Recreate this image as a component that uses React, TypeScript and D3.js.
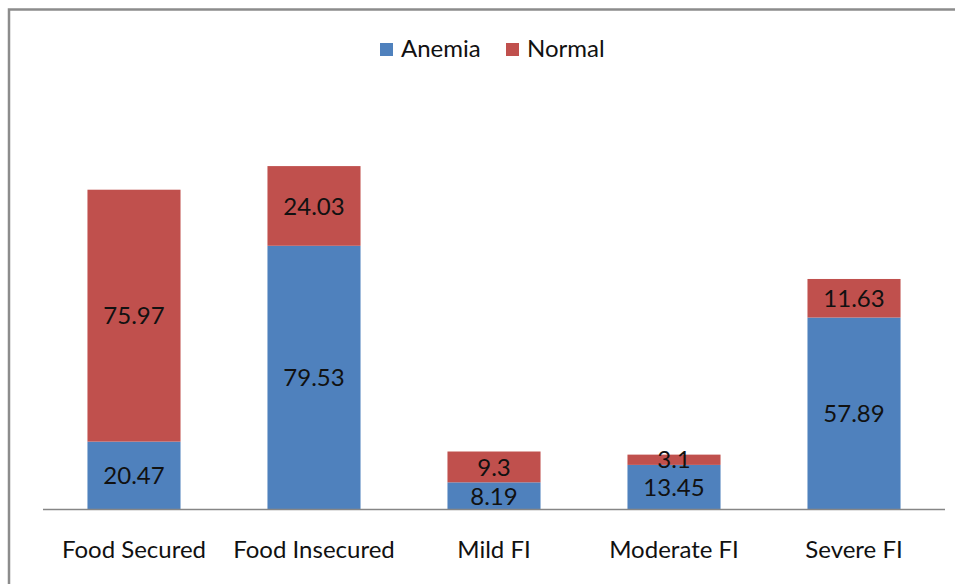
import React, { useRef, useEffect } from "react";
import * as d3 from "d3";

const categories = ["Food Secured", "Food Insecured", "Mild FI", "Moderate FI", "Severe FI"];
const anemia = [20.47, 79.53, 8.19, 13.45, 57.89];
const normal = [75.97, 24.03, 9.3, 3.1, 11.63];
const seriesNames = ["Anemia", "Normal"];
const seriesColors = ["#4F81BD", "#C0504D"];

const W = 955;
const H = 584;
const FONT = "Lato, 'Open Sans', sans-serif";

const App = () => {
  const ref = useRef<SVGSVGElement>(null);

  useEffect(() => {
    if (!ref.current) return;
    const svg = d3.select(ref.current);
    svg.selectAll("*").remove();

    // outer chart frame
    svg
      .append("rect")
      .attr("x", 9)
      .attr("y", 9.5)
      .attr("width", W + 20)
      .attr("height", H + 20)
      .attr("fill", "white")
      .attr("stroke", "#8c8c8c")
      .attr("stroke-width", 2.5);

    const baseline = 509.5;
    const x = d3
      .scaleBand()
      .domain(categories)
      .range([43, 945])
      .paddingInner(0.483)
      .paddingOuter(0.247);
    const y = d3.scaleLinear().domain([0, 120]).range([baseline, baseline - 120 * 3.316]);

    const rows = categories.map((c, i) => ({ cat: c, Anemia: anemia[i], Normal: normal[i] }));
    const stacked = d3.stack<any>().keys(seriesNames)(rows);

    const g = svg.append("g");
    stacked.forEach((layer, li) => {
      g.selectAll(".s" + li)
        .data(layer)
        .enter()
        .append("rect")
        .attr("x", (d: any) => x(d.data.cat)!)
        .attr("width", x.bandwidth())
        .attr("y", (d: any) => y(d[1]))
        .attr("height", (d: any) => y(d[0]) - y(d[1]))
        .attr("fill", seriesColors[li]);
    });

    // data labels
    stacked.forEach((layer) => {
      g.selectAll(null)
        .data(layer)
        .enter()
        .append("text")
        .attr("x", (d: any) => x(d.data.cat)! + x.bandwidth() / 2)
        .attr("y", (d: any) => (y(d[0]) + y(d[1])) / 2)
        .attr("dy", "0.36em")
        .attr("text-anchor", "middle")
        .attr("font-family", FONT)
        .attr("font-size", 24)
        .attr("fill", "#111")
        .text((d: any) => String(d.data[layer.key]));
    });

    // x axis
    const xAxis = svg.append("g").attr("transform", `translate(0,${baseline})`);
    xAxis.call(d3.axisBottom(x).tickSize(0).tickPadding(31));
    xAxis.select(".domain").attr("stroke", "#868686").attr("stroke-width", 1.3).attr("d", "M43,0H945");
    xAxis
      .selectAll("text")
      .attr("font-family", FONT)
      .attr("font-size", 24)
      .attr("fill", "#111");

    // legend
    const legendX = [380, 506];
    seriesNames.forEach((s, i) => {
      svg
        .append("rect")
        .attr("x", legendX[i])
        .attr("y", 43)
        .attr("width", 13)
        .attr("height", 13)
        .attr("fill", seriesColors[i]);
      svg
        .append("text")
        .attr("x", legendX[i] + 21)
        .attr("y", 57)
        .attr("font-family", FONT)
        .attr("font-size", 24)
        .attr("fill", "#111")
        .text(s);
    });
  }, []);

  return (
    <svg
      ref={ref}
      width={W}
      height={H}
      style={{ position: "absolute", left: 0, top: 0, background: "white" }}
    />
  );
};

export default App;
